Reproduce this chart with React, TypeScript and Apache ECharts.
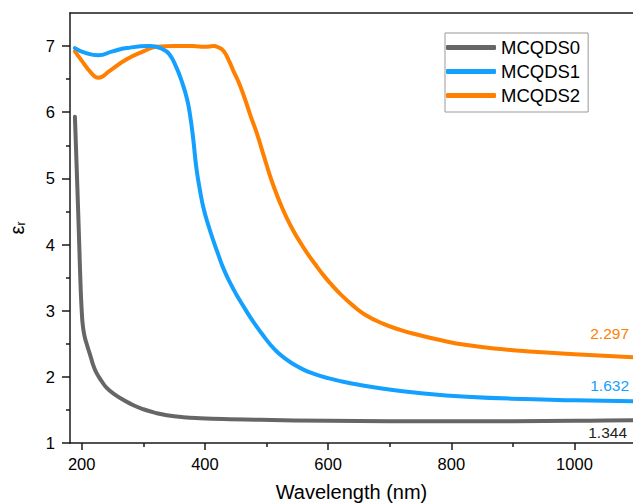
import React, { useEffect, useRef } from "react";
import * as echarts from "echarts";

const seriesNames = ["MCQDS0", "MCQDS1", "MCQDS2"];
const seriesColors = ["#666666", "#14a0ff", "#ff8000"];

const wl0 = [189, 193, 196, 198, 200, 202, 205, 208, 211, 215, 219, 224, 232, 241, 254, 268, 284, 300, 320, 338, 365, 392, 440, 490, 600, 700, 800, 900, 1000, 1050, 1095];
const eps0 = [5.93, 4.85, 4.0, 3.42, 3.0, 2.76, 2.6, 2.5, 2.41, 2.29, 2.17, 2.06, 1.94, 1.83, 1.73, 1.65, 1.57, 1.51, 1.455, 1.42, 1.39, 1.375, 1.36, 1.35, 1.335, 1.33, 1.33, 1.33, 1.335, 1.34, 1.344];

const wl1 = [189, 205, 227, 250, 273, 311, 330, 342, 354, 363, 371, 376, 381, 386, 392, 398, 406, 414, 422, 430, 441, 452, 463, 473, 484, 495, 506, 517, 530, 544, 560, 576, 600, 620, 650, 690, 744, 825, 934, 1000, 1095];
const eps1 = [6.97, 6.9, 6.86, 6.92, 6.97, 7.0, 6.96, 6.88, 6.67, 6.45, 6.2, 5.95, 5.6, 5.17, 4.82, 4.54, 4.28, 4.05, 3.84, 3.64, 3.42, 3.23, 3.06, 2.91, 2.76, 2.62, 2.49, 2.38, 2.28, 2.19, 2.11, 2.05, 1.98, 1.935, 1.88, 1.82, 1.76, 1.7, 1.66, 1.645, 1.632];

const wl2 = [189, 200, 215, 227, 246, 273, 300, 322, 350, 380, 400, 414, 422, 430, 438, 446, 455, 465, 474, 484, 495, 506, 514, 522, 533, 544, 555, 566, 580, 593, 606, 620, 640, 660, 690, 717, 744, 780, 825, 880, 934, 1000, 1095];
const eps2 = [6.92, 6.78, 6.6, 6.52, 6.63, 6.8, 6.92, 6.99, 7.0, 7.0, 6.99, 7.0, 6.98, 6.93, 6.8, 6.63, 6.45, 6.2, 5.95, 5.69, 5.36, 5.03, 4.82, 4.63, 4.4, 4.2, 4.03, 3.87, 3.69, 3.53, 3.39, 3.25, 3.08, 2.94, 2.8, 2.71, 2.64, 2.56, 2.48, 2.42, 2.38, 2.34, 2.297];

const xMajor = [200, 400, 600, 800, 1000];
const xMinor = [300, 500, 700, 900];
const yMajor = [1, 2, 3, 4, 5, 6, 7];
const yMinor = [1.5, 2.5, 3.5, 4.5, 5.5, 6.5];

const endLabels = ["1.344", "1.632", "2.297"];

const FONT = "'Liberation Sans', Arial, sans-serif";

export default function App() {
  const ref = useRef<HTMLDivElement>(null);
  useEffect(() => {
    if (!ref.current) return;
    const chart = echarts.init(ref.current, undefined, { renderer: "svg" });
    const pairs = (xs: number[], ys: number[]) => xs.map((x, i) => [x, ys[i]]);
    const data = [pairs(wl0, eps0), pairs(wl1, eps1), pairs(wl2, eps2)];
    const axisColor = "#1a1a1a";
    const xMin = 181;
    const xMax = 1095;
    const yMin = 1;
    const yMax = 7.5;
    chart.setOption({
      animation: false,
      textStyle: { fontFamily: FONT },
      grid: { left: 70, right: 0, top: 13, bottom: 61, containLabel: false, outerBoundsMode: "none" },
      legend: {
        orient: "vertical",
        left: 445,
        top: 33,
        padding: [5, 8, 7, 1],
        itemGap: 5,
        itemWidth: 50,
        itemHeight: 5,
        icon: "roundRect",
        borderColor: "#999999",
        borderWidth: 1,
        textStyle: { fontSize: 18.5, color: "#000", fontFamily: FONT },
        data: seriesNames,
      },
      xAxis: [
        {
          type: "value",
          min: xMin,
          max: xMax,
          position: "bottom",
          name: "Wavelength (nm)",
          nameLocation: "middle",
          nameGap: 39,
          nameTextStyle: { fontSize: 20, color: "#000", fontFamily: FONT },
          axisLine: { lineStyle: { color: axisColor, width: 1.5 } },
          axisTick: { customValues: xMajor, length: 7, lineStyle: { color: axisColor, width: 1.5 } },
          axisLabel: {
            customValues: xMajor,
            fontSize: 16.5,
            color: "#000",
            margin: 12,
            fontFamily: FONT,
            formatter: (v: number) => String(v),
          },
          splitLine: { show: false },
        },
        {
          type: "value",
          min: xMin,
          max: xMax,
          position: "bottom",
          axisLine: { show: false },
          axisTick: { customValues: xMinor, length: 4, lineStyle: { color: axisColor, width: 1.5 } },
          axisLabel: { show: false },
          splitLine: { show: false },
        },
        {
          type: "value",
          min: xMin,
          max: xMax,
          position: "top",
          axisLine: { lineStyle: { color: axisColor, width: 1.5 } },
          axisTick: { show: false },
          axisLabel: { show: false },
          splitLine: { show: false },
        },
      ],
      yAxis: [
        {
          type: "value",
          min: yMin,
          max: yMax,
          position: "left",
          name: "ε{s|r}",
          nameLocation: "middle",
          nameGap: 43,
          nameRotate: 90,
          nameTextStyle: {
            fontSize: 20,
            color: "#000",
            fontFamily: FONT,
            rich: { s: { fontSize: 12, color: "#000", verticalAlign: "bottom", padding: [8, 0, 0, 0], fontFamily: FONT } },
          },
          axisLine: { lineStyle: { color: axisColor, width: 1.5 } },
          axisTick: { customValues: yMajor, length: 8, lineStyle: { color: axisColor, width: 1.5 } },
          axisLabel: { customValues: yMajor, fontSize: 16.5, color: "#000", margin: 15, fontFamily: FONT },
          splitLine: { show: false },
        },
        {
          type: "value",
          min: yMin,
          max: yMax,
          position: "left",
          axisLine: { show: false },
          axisTick: { customValues: yMinor, length: 4, lineStyle: { color: axisColor, width: 1.5 } },
          axisLabel: { show: false },
          splitLine: { show: false },
        },
      ],
      series: seriesNames.map((name, i) => ({
        name,
        type: "line",
        xAxisIndex: 0,
        yAxisIndex: 0,
        data: data[i],
        showSymbol: false,
        symbol: "none",
        smooth: 0.5,
        color: seriesColors[i],
        lineStyle: { width: 4, color: seriesColors[i], cap: "round", join: "round" },
        z: 3 - i,
      })),
      graphic: [
        { type: "text", right: 4, top: 325, style: { text: endLabels[2], fill: seriesColors[2], font: `15.5px ${FONT}` } },
        { type: "text", right: 4, top: 377, style: { text: endLabels[1], fill: seriesColors[1], font: `15.5px ${FONT}` } },
        { type: "text", right: 6, top: 424, style: { text: endLabels[0], fill: "#222", font: `15.5px ${FONT}` } },
      ],
    });
    return () => chart.dispose();
  }, []);
  return <div ref={ref} style={{ width: 633, height: 504, position: "absolute", left: 0, top: 0 }} />;
}
